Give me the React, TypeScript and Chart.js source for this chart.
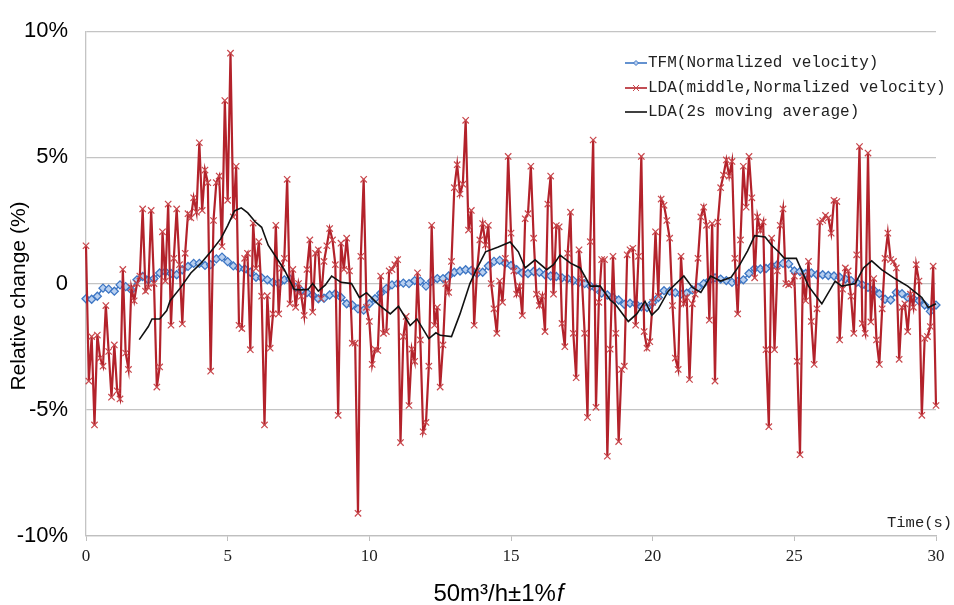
import React, { useEffect, useRef } from 'react';
import { Chart, registerables } from 'chart.js';

Chart.register(...registerables);

// ---- data ----
// LDA (middle, normalized velocity), sampled every LDA_DT seconds from t = 0
const LDA_DT = 0.1;
const ldaValues = [
  1.5, -3.86, -2.1, -5.6, -2.04, -2.95, -3.27, -0.87, -2.69, -4.5,
  -2.43, -4.25, -4.57, 0.56, -2.75, -3.4, -0.16, -0.68, 0.0, 0.3,
  2.96, -0.3, -0.15, 2.9, 0.0, -4.1, -3.3, 2.05, 0.1, 3.15,
  -1.65, 1.0, 2.96, 0.75, -1.6, 1.2, 2.77, 2.6, 3.4, 2.83,
  5.58, 2.9, 4.5, 4.0, -3.47, 2.5, 4.0, 4.26, 1.47, 7.25,
  3.3, 9.13, 2.64, 4.65, -1.65, -1.78, 1.0, 1.2, -2.62, 2.4,
  0.6, 1.66, -0.5, -5.6, -0.48, -2.56, -1.2, 2.31, -1.2, 0.6,
  1.0, 4.13, -0.8, 0.56, -0.94, 0.0, -0.5, -1.26, 0.56, 1.73,
  -1.13, 1.2, 1.34, -0.6, 0.88, 1.5, 2.18, 1.73, 0.75, -5.22,
  1.6, 0.56, 1.8, 0.5, -2.36, -2.36, -9.1, 1.08, 4.13, -0.94,
  -1.5, -3.2, -2.6, -2.65, 0.3, -1.97, -1.9, 0.5, 0.56, 0.75,
  0.95, -6.3, -2.1, -1.3, -4.83, -2.6, -3.08, 0.43, -2.23, -5.87,
  -5.5, -3.27, 2.31, -1.65, -0.94, -4.1, -2.43, 0.0, -0.35, 0.88,
  3.8, 4.71, 3.55, 3.94, 6.47, 2.12, 2.9, -1.65, 0.5, 1.73,
  2.38, 1.53, 2.31, 0.0, -1.0, -1.97, 0.1, -0.74, 1.0, 5.04,
  2.0, 0.5, -0.42, -0.1, -1.26, 2.57, 2.77, 4.65, 1.8, -0.42,
  -0.87, -0.5, -1.9, 3.15, 4.26, -0.42, 2.3, 2.25, -1.58, -2.5,
  1.2, 2.83, -1.97, -3.73, 1.34, 0.2, -1.97, -5.3, 1.66, 5.69,
  -4.9, -0.74, 0.95, 0.95, -6.84, -2.6, 1.08, -1.97, -6.26, -3.4,
  -3.27, 1.14, 1.34, 1.4, -1.65, 1.08, 5.04, -1.9, -2.56, -2.3,
  -0.74, 2.05, -0.5, 3.35, 3.1, 2.5, 1.8, -0.87, -2.95, -3.4,
  1.08, -0.8, -0.55, -3.8, -0.8, -0.42, 1.0, 2.64, 3.03, 2.31,
  -1.45, 2.38, -3.86, 2.44, 3.8, 4.3, 4.9, 4.26, 4.84, 1.0,
  -1.2, 1.73, 4.65, 3.03, 5.04, 3.4, 0.23, 2.64, 2.1, 2.44,
  -2.62, -5.67, 1.8, -2.62, 0.5, 2.31, 2.96, 0.0, -0.05, 0.0,
  0.3, -3.08, -6.78, 0.3, -0.68, 0.88, -1.5, -3.2, -1.0, 2.44,
  2.5, 2.7, 2.6, 2.0, 3.3, 3.25, -2.23, -0.22, 0.62, 0.5,
  -0.5, -1.97, 1.14, 5.43, -1.58, -1.97, 5.17, -1.52, 0.2, -2.23,
  -3.2, -1.0, 1.0, 2.0, 0.95, 0.88, 0.62, -3.0, -0.94, -0.8,
  -1.9, -0.42, -0.94, 0.75, 0.1, -5.22, -2.17, -2.1, -1.7, 0.69,
  -4.83,
];

// TFM (normalized velocity), sampled every TFM_DT seconds from t = 0
const TFM_DT = 0.2;
const tfmValues = [
  -0.6, -0.62, -0.5, -0.18, -0.22, -0.3, -0.05, -0.12, -0.25, 0.15,
  0.28, 0.15, 0.2, 0.42, 0.47, 0.4, 0.35, 0.55, 0.68, 0.8,
  0.8, 0.72, 0.75, 0.98, 1.05, 0.87, 0.7, 0.62, 0.58, 0.45,
  0.25, 0.23, 0.15, 0.05, 0.0, 0.15, 0.18, -0.15, -0.28, -0.36,
  -0.45, -0.6, -0.58, -0.45, -0.4, -0.55, -0.8, -0.85, -1.0, -1.05,
  -0.8, -0.6, -0.38, -0.2, -0.05, 0.0, 0.02, 0.0, 0.12, 0.1,
  -0.1, 0.1, 0.2, 0.2, 0.3, 0.45, 0.5, 0.55, 0.52, 0.4,
  0.45, 0.7, 0.88, 0.92, 0.8, 0.72, 0.55, 0.42, 0.4, 0.48,
  0.45, 0.35, 0.3, 0.28, 0.23, 0.2, 0.12, 0.05, 0.0, -0.1,
  -0.2, -0.38, -0.45, -0.55, -0.65, -0.82, -0.78, -0.8, -0.92, -0.95,
  -0.75, -0.55, -0.28, -0.3, -0.36, -0.42, -0.38, -0.25, -0.15, 0.0,
  0.12, 0.23, 0.18, 0.12, 0.05, 0.08, 0.15, 0.4, 0.6, 0.58,
  0.6, 0.7, 0.75, 0.8, 0.78, 0.5, 0.48, 0.4, 0.42, 0.35,
  0.35, 0.32, 0.3, 0.25, 0.18, 0.12, 0.05, -0.05, -0.15, -0.25,
  -0.4, -0.62, -0.65, -0.35, -0.4, -0.55, -0.6, -0.68, -0.85, -1.1,
  -0.85,
];

// LDA 2 s moving average
const maTimes = [
  1.88, 2.2, 2.33, 2.6, 2.85, 2.97, 3.33, 3.7, 4.05, 4.4,
  4.76, 5.0, 5.24, 5.48, 5.71, 5.97, 6.2, 6.43, 7.0, 7.35,
  7.6, 7.84, 8.0, 8.2, 8.45, 8.67, 9.0, 9.37, 9.65, 9.9,
  10.32, 10.74, 11.03, 11.44, 11.68, 12.1, 12.35, 12.5, 12.9, 13.2,
  13.55, 13.8, 14.1, 14.55, 14.97, 15.26, 15.5, 15.85, 16.26, 16.5,
  16.73, 17.1, 17.44, 17.8, 18.15, 18.5, 18.67, 19.14, 19.44, 19.73,
  19.97, 20.2, 20.55, 21.1, 21.4, 21.7, 22.05, 22.4, 22.77, 23.07,
  23.35, 23.6, 23.97, 24.2, 24.44, 24.65, 25.07, 25.5, 25.97, 26.44,
  26.67, 27.15, 27.44, 27.73, 28.08, 28.55, 29.0, 29.5, 29.73, 30.0,
];
const maValues = [
  -2.22, -1.7, -1.4, -1.4, -1.07, -0.68, -0.17, 0.42, 0.8, 1.26,
  1.78, 2.3, 2.88, 3.0, 2.8, 2.45, 2.23, 1.52, 0.55, -0.23,
  -0.25, -0.23, 0.0, -0.3, -0.05, 0.3, 0.05, 0.0, -0.55, -0.36,
  -0.82, -1.2, -0.9, -1.66, -1.4, -2.18, -1.95, -2.05, -2.1, -1.2,
  0.0, 0.6, 1.26, 1.45, 1.65, 1.26, 0.62, 0.94, 0.55, 0.75,
  1.13, 0.81, 0.62, -0.1, -0.1, -0.65, -0.8, -1.5, -1.2, -0.7,
  -1.25, -1.0, -0.3, 0.3, -0.15, -0.35, 0.3, 0.1, 0.25, 0.74,
  1.3, 1.9, 1.85, 1.52, 1.26, 1.0, 1.0, -0.1, -0.8, 0.1,
  -0.1, 0.0, 0.62, 0.9, 0.55, 0.2, -0.1, -0.55, -0.95, -0.8,
];

const xTicks = [0, 5, 10, 15, 20, 25, 30];
const yTicks = [-10, -5, 0, 5, 10];
const seriesLabels = [
  'TFM(Normalized velocity)',
  'LDA(middle,Normalized velocity)',
  'LDA(2s moving average)',
];
const xTitleMain = '50m\u00B3/h\u00B11%';
const xTitleItalic = 'f';
const yTitle = 'Relative change (%)';
const timeLabel = 'Time(s)';

const BLUE = '#3d76c4';
const BLUE_FILL = '#b9d0f0';
const RED = '#b3222b';
const RED_MARK = '#c8474c';
const BLACK = '#111111';

const overlayPlugin = {
  id: 'overlayTexts',
  afterDraw(chart: any) {
    const ctx = chart.ctx as CanvasRenderingContext2D;
    const area = chart.chartArea;
    // y axis title
    ctx.save();
    ctx.translate(19, 296);
    ctx.rotate(-Math.PI / 2);
    ctx.font = '21px "Liberation Sans", Arial, sans-serif';
    ctx.fillStyle = '#000';
    ctx.textAlign = 'center';
    ctx.textBaseline = 'middle';
    ctx.fillText(yTitle, 0, 0);
    ctx.restore();

    // x axis title
    ctx.save();
    ctx.fillStyle = '#000';
    ctx.textBaseline = 'alphabetic';
    ctx.textAlign = 'left';
    const fMain = '24px "Liberation Sans", Arial, sans-serif';
    const fIt = 'italic 24px "Liberation Sans", Arial, sans-serif';
    ctx.font = fMain;
    const w1 = ctx.measureText(xTitleMain).width;
    ctx.font = fIt;
    const w2 = ctx.measureText(xTitleItalic).width;
    const sx = 498 - (w1 + w2) / 2;
    ctx.font = fMain;
    ctx.fillText(xTitleMain, sx, 601);
    ctx.font = fIt;
    ctx.fillText(xTitleItalic, sx + w1 + 1, 601);
    ctx.restore();

    // Time(s)
    ctx.save();
    ctx.fillStyle = '#222';
    ctx.font = '15.5px "Liberation Mono", monospace';
    ctx.textAlign = 'left';
    ctx.textBaseline = 'middle';
    ctx.fillText(timeLabel, 887, area.bottom - 13);
    ctx.restore();

    // legend
    const rows = [63, 88, 112];
    const ds = chart.data.datasets;
    ctx.save();
    for (let i = 0; i < ds.length; i++) {
      const y = rows[i];
      const d = ds[i];
      ctx.strokeStyle = d.borderColor;
      ctx.lineWidth = 1.6;
      ctx.beginPath();
      ctx.moveTo(625, y);
      ctx.lineTo(647, y);
      ctx.stroke();
      if (i === 0) {
        ctx.fillStyle = BLUE_FILL;
        ctx.strokeStyle = BLUE;
        ctx.lineWidth = 1;
        ctx.beginPath();
        ctx.moveTo(636, y - 2.5);
        ctx.lineTo(638.5, y);
        ctx.lineTo(636, y + 2.5);
        ctx.lineTo(633.5, y);
        ctx.closePath();
        ctx.fill();
        ctx.stroke();
      } else if (i === 1) {
        ctx.strokeStyle = RED_MARK;
        ctx.lineWidth = 1;
        ctx.beginPath();
        ctx.moveTo(633, y - 3);
        ctx.lineTo(639, y + 3);
        ctx.moveTo(639, y - 3);
        ctx.lineTo(633, y + 3);
        ctx.stroke();
      }
      ctx.fillStyle = '#222';
      ctx.font = '16px "Liberation Mono", monospace';
      ctx.textAlign = 'left';
      ctx.textBaseline = 'middle';
      ctx.fillText(d.label, 648, y);
    }
    ctx.restore();
  },
};

export default function App() {
  const canvasRef = useRef<HTMLCanvasElement | null>(null);

  useEffect(() => {
    if (!canvasRef.current) return;
    const tfmData = tfmValues.map((v, i) => ({ x: +(i * TFM_DT).toFixed(2), y: v }));
    const ldaData = ldaValues.map((v, i) => ({ x: +(i * LDA_DT).toFixed(2), y: v }));
    const maData = maValues.map((v, i) => ({ x: maTimes[i], y: v }));

    const chart = new Chart(canvasRef.current, {
      type: 'line',
      data: {
        datasets: [
          {
            label: seriesLabels[0],
            data: tfmData,
            borderColor: BLUE,
            borderWidth: 1.5,
            pointStyle: 'rectRot',
            pointRadius: 4,
            pointBorderWidth: 1.3,
            pointBorderColor: BLUE,
            pointBackgroundColor: BLUE_FILL,
            order: 3,
            clip: false,
          },
          {
            label: seriesLabels[1],
            data: ldaData,
            borderColor: RED,
            borderWidth: 2.2,
            pointStyle: 'crossRot',
            pointRadius: 4.5,
            pointBorderWidth: 1.2,
            pointBorderColor: RED_MARK,
            pointBackgroundColor: RED_MARK,
            order: 2,
            clip: false,
          },
          {
            label: seriesLabels[2],
            data: maData,
            borderColor: BLACK,
            borderWidth: 1.6,
            pointRadius: 0,
            order: 1,
            clip: false,
          },
        ],
      },
      options: {
        animation: false,
        responsive: false,
        maintainAspectRatio: false,
        devicePixelRatio: 1,
        layout: { padding: { left: 0, right: 18, top: 22, bottom: 0 } },
        plugins: {
          legend: { display: false },
          tooltip: { enabled: false },
          title: { display: false },
        },
        elements: { line: { tension: 0 } },
        scales: {
          x: {
            type: 'linear',
            min: 0,
            max: 30,
            afterFit: (s: any) => {
              s.height = 69;
            },
            afterBuildTicks: (s: any) => {
              s.ticks = xTicks.map((v) => ({ value: v }));
            },
            ticks: {
              color: '#222',
              padding: 5,
              maxRotation: 0,
              autoSkip: false,
              font: { family: '"Liberation Serif", "Times New Roman", serif', size: 17 },
            },
            grid: {
              drawOnChartArea: false,
              drawTicks: true,
              tickLength: 5,
              color: '#bfbfbf',
            },
            border: { display: true, color: '#bfbfbf', width: 1.3 },
          },
          y: {
            type: 'linear',
            min: -10,
            max: 10,
            afterFit: (s: any) => {
              s.width = 86;
            },
            afterBuildTicks: (s: any) => {
              s.ticks = yTicks.map((v) => ({ value: v }));
            },
            ticks: {
              color: '#000',
              padding: 18,
              autoSkip: false,
              font: { family: '"Liberation Sans", Arial, sans-serif', size: 22 },
              callback: (v: any) => (Number(v) === 0 ? '0' : `${v}%`),
            },
            grid: { color: '#c4c4c4', lineWidth: 1.3, drawTicks: false },
            border: { display: true, color: '#c4c4c4', width: 1.3 },
          },
        },
      },
      plugins: [overlayPlugin],
    } as any);

    return () => chart.destroy();
  }, []);

  return (
    <div style={{ position: 'fixed', left: 0, top: 0, width: 954, height: 605, background: '#fff' }}>
      <canvas ref={canvasRef} width={954} height={605} style={{ width: 954, height: 605 }} />
    </div>
  );
}
